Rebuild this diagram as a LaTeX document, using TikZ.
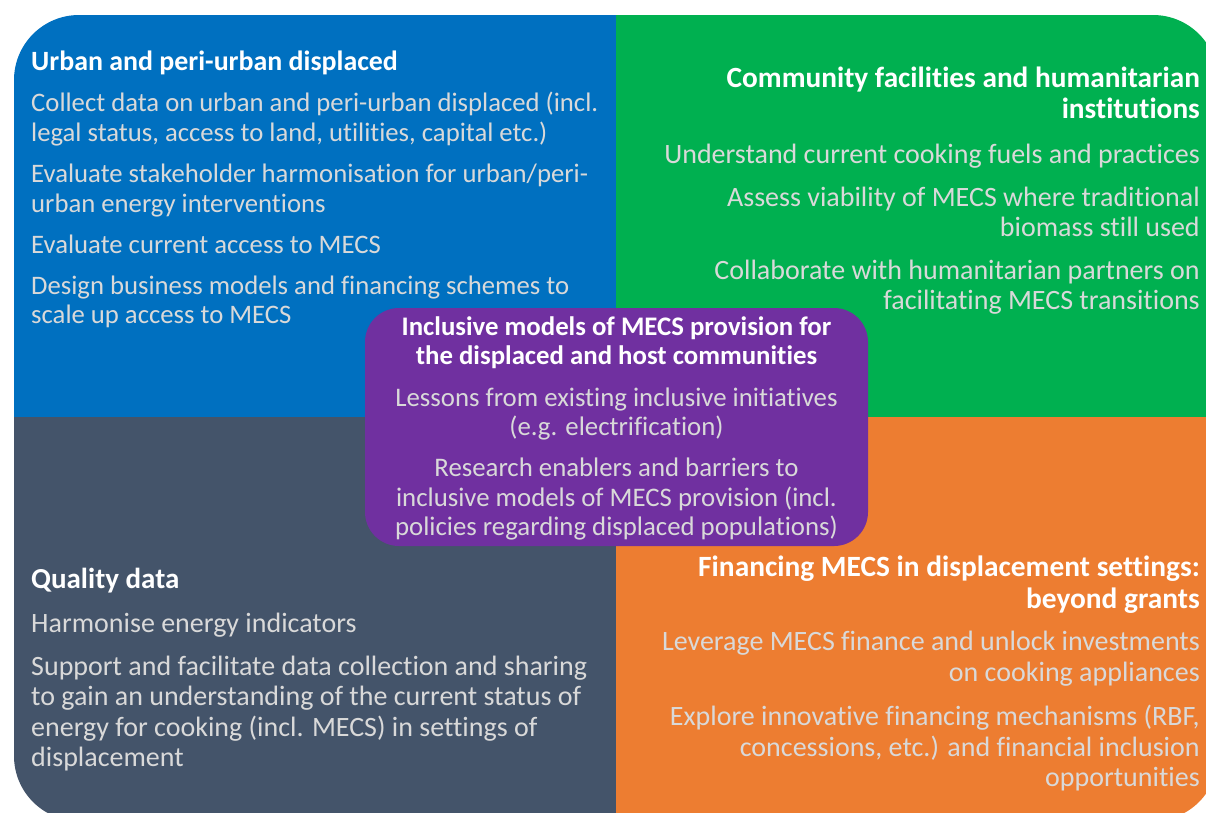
\documentclass[tikz,border=0pt]{standalone}
\usepackage{fontspec}
\setmainfont{Carlito}[Ligatures=NoCommon]

\newcommand{\blockhead}[2]{{\color{white}\bfseries\fontsize{#1}{#1}\selectfont #2}}

\begin{document}
\begin{tikzpicture}[x=1pt,y=-1pt,
    blocktext/.style 2 args={inner sep=0pt,color={rgb,255:red,217; green,217; blue,217},
        font=\fontsize{#1}{#2}\selectfont}]
    \useasboundingbox (0,0) rectangle (1206,812);

    \begin{scope}
    \clip (0,0) rectangle (1206,812);
    \clip[rounded corners=65pt] (14,15) rectangle (1218,821);
    \fill[color={rgb,255:red,0; green,112; blue,192}] (14,15) rectangle (616,417);
    \fill[color={rgb,255:red,0; green,176; blue,80}] (616,15) rectangle (1218,417);
    \fill[color={rgb,255:red,68; green,84; blue,106}] (14,417) rectangle (616,821);
    \fill[color={rgb,255:red,237; green,125; blue,49}] (616,417) rectangle (1218,821);
    \end{scope}

    % middle box
    \fill[color={rgb,255:red,112; green,48; blue,160},rounded corners=34pt] (365,308) rectangle (868,546);

    \node[blocktext={26.7}{29.5},anchor=north west,align=left] (urban) at (31,50.5)
        {\blockhead{27.9}{Urban and peri-urban displaced}\\[12pt]
        Collect data on urban and peri-urban displaced (incl.\\
        legal status, access to land, utilities, capital etc.)\\[12pt]
        Evaluate stakeholder harmonisation for urban/peri-\\
        urban energy interventions\\[11.5pt]
        Evaluate current access to MECS\\[11.5pt]
        Design business models and financing schemes to\\
        scale up access to MECS};

    \node[blocktext={28}{30},anchor=north east,align=right] (community) at (1200,67)
        {\blockhead{29.3}{Community facilities and humanitarian}\\[1pt]
        \blockhead{29.3}{institutions}\\[14.5pt]
        Understand current cooking fuels and practices\\[13pt]
        Assess viability of MECS where traditional\\
        biomass still used\\[13pt]
        Collaborate with humanitarian partners on\\
        facilitating MECS transitions};

    \node[blocktext={26.8}{29.5},anchor=north,align=center] (inclusive) at (616.5,316)
        {\blockhead{26.8}{Inclusive models of MECS provision for}\\
        \blockhead{26.8}{the displaced and host communities}\\[12pt]
        Lessons from existing inclusive initiatives\\
        (e.g. electrification)\\[11.5pt]
        Research enablers and barriers to\\
        inclusive models of MECS provision (incl.\\
        policies regarding displaced populations)};

    \node[blocktext={28}{30.5},anchor=north west,align=left] (quality) at (31,567.5)
        {\blockhead{29}{Quality data}\\[13.5pt]
        Harmonise energy indicators\\[12.5pt]
        Support and facilitate data collection and sharing\\
        to gain an understanding of the current status of\\
        energy for cooking (incl. MECS) in settings of\\
        displacement};

    \node[blocktext={28}{30.5},anchor=north east,align=right] (financing) at (1200,555.5)
        {\blockhead{29.4}{Financing MECS in displacement settings:}\\[1.5pt]
        \blockhead{29.4}{beyond grants}\\[12pt]
        Leverage MECS finance and unlock investments\\
        on cooking appliances\\[14pt]
        Explore innovative financing mechanisms (RBF,\\
        concessions, etc.) and financial inclusion\\
        opportunities};
\end{tikzpicture}
\end{document}
